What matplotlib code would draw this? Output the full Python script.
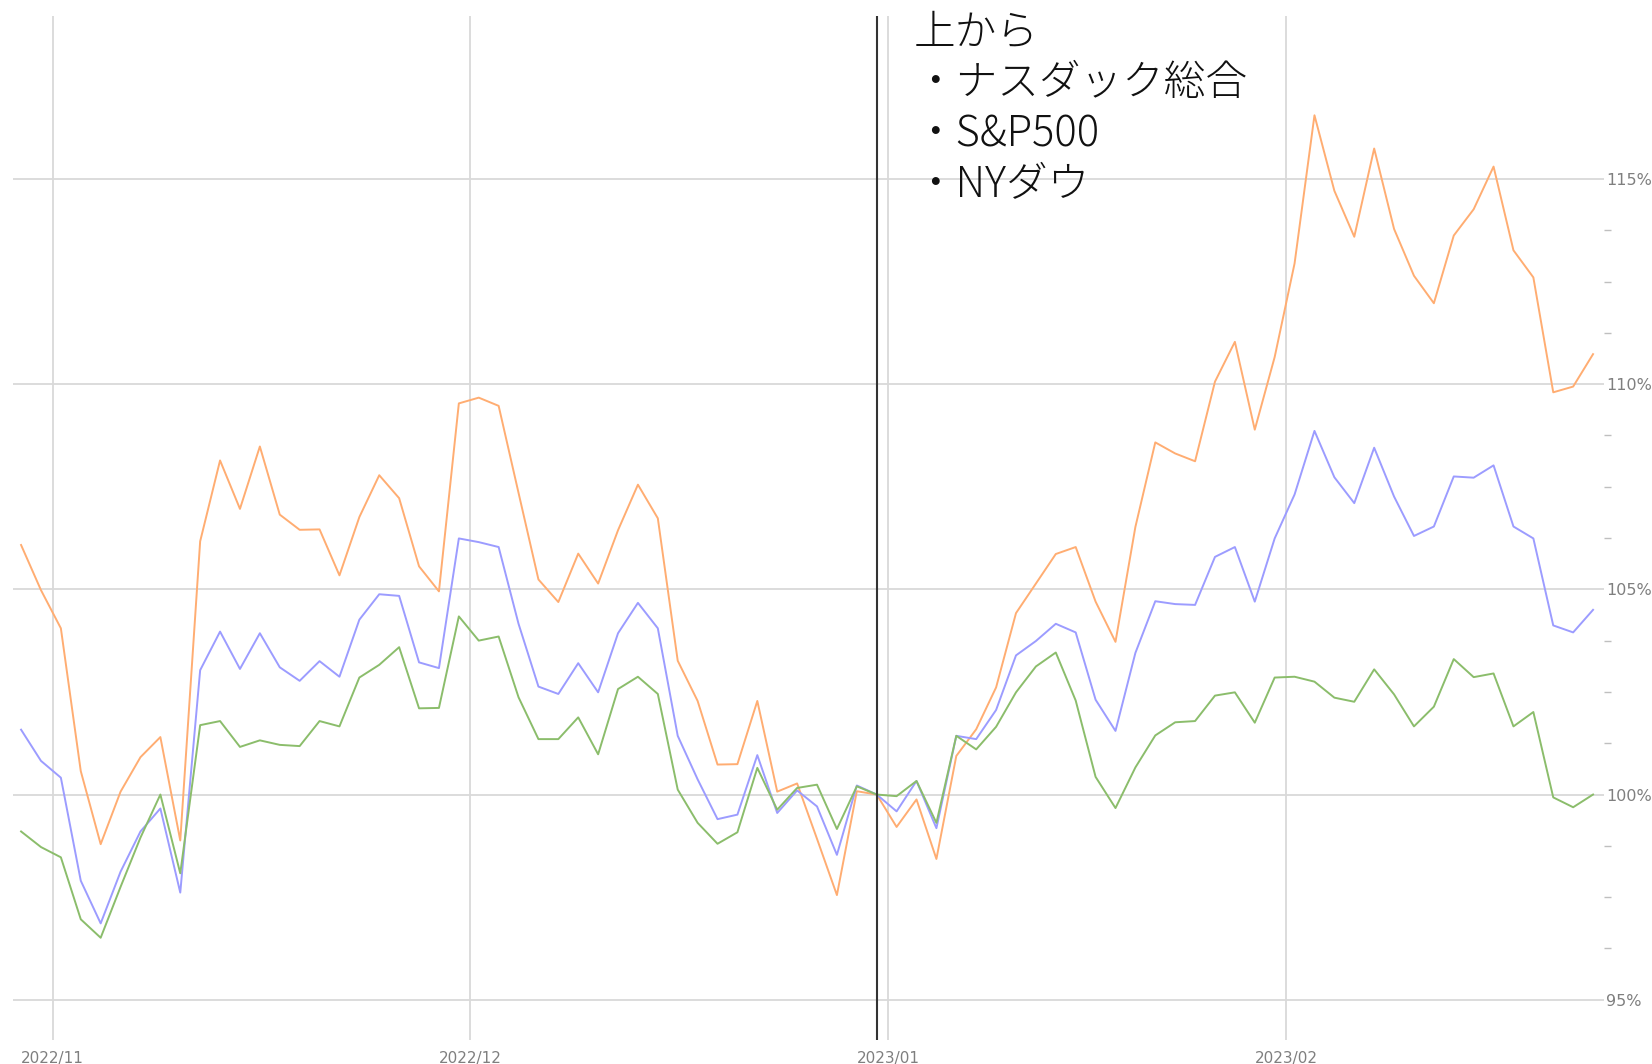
import matplotlib.pyplot as plt
import matplotlib.ticker as mticker
import numpy as np
import pandas as pd

plt.rcParams['font.family'] = ['Noto Sans CJK JP', 'DejaVu Sans']

# trading days (US market holidays removed)
holidays = ['2022-11-24', '2022-12-26', '2023-01-02', '2023-01-16', '2023-02-20']
days = pd.bdate_range('2022-10-28', '2023-02-23')
days = days[~days.isin(pd.to_datetime(holidays))]
base_day = '2022-12-30'

# % of the 2022/12/30 close
nasdaq = [106.08, 104.98, 104.05, 100.57, 98.79, 100.07, 100.91, 101.40, 98.88, 106.17,
          108.14, 106.96, 108.48, 106.82, 106.45, 106.46, 105.34, 106.76, 107.78, 107.22,
          105.56, 104.95, 109.53, 109.67, 109.47, 107.35, 105.24, 104.69, 105.87, 105.14,
          106.44, 107.55, 106.73, 103.26, 102.28, 100.73, 100.74, 102.28, 100.07, 100.27,
          98.92, 97.55, 100.08, 100.00, 99.21, 99.88, 98.43, 100.94, 101.59, 102.61,
          104.42, 105.14, 105.86, 106.03, 104.70, 103.72, 106.52, 108.58, 108.31, 108.12,
          110.06, 111.03, 108.89, 110.66, 112.94, 116.55, 114.71, 113.59, 115.74, 113.78,
          112.64, 111.97, 113.62, 114.26, 115.30, 113.26, 112.60, 109.80, 109.94, 110.73]

sp500 = [101.58, 100.82, 100.41, 97.90, 96.86, 98.12, 99.10, 99.66, 97.61, 103.03,
         103.97, 103.06, 103.93, 103.10, 102.77, 103.25, 102.87, 104.26, 104.88, 104.84,
         103.22, 103.08, 106.24, 106.15, 106.03, 104.16, 102.63, 102.45, 103.20, 102.49,
         103.93, 104.67, 104.05, 101.43, 100.37, 99.40, 99.51, 100.96, 99.55, 100.10,
         99.71, 98.53, 100.22, 100.00, 99.59, 100.33, 99.18, 101.43, 101.35, 102.06,
         103.39, 103.74, 104.16, 103.95, 102.31, 101.55, 103.45, 104.71, 104.64, 104.62,
         105.79, 106.03, 104.70, 106.24, 107.31, 108.86, 107.73, 107.10, 108.45, 107.26,
         106.30, 106.53, 107.75, 107.72, 108.02, 106.53, 106.24, 104.12, 103.95, 104.50]

dow = [99.10, 98.72, 98.47, 96.96, 96.51, 97.75, 98.95, 100.00, 98.08, 101.69,
       101.79, 101.16, 101.32, 101.21, 101.18, 101.79, 101.66, 102.85, 103.16, 103.59,
       102.10, 102.11, 104.34, 103.75, 103.85, 102.37, 101.35, 101.35, 101.88, 100.98,
       102.57, 102.87, 102.45, 100.12, 99.31, 98.80, 99.08, 100.65, 99.63, 100.16,
       100.24, 99.16, 100.20, 100.00, 99.96, 100.33, 99.31, 101.43, 101.10, 101.65,
       102.49, 103.12, 103.46, 102.29, 100.43, 99.67, 100.66, 101.44, 101.76, 101.79,
       102.41, 102.49, 101.75, 102.85, 102.87, 102.75, 102.36, 102.26, 103.05, 102.44,
       101.66, 102.14, 103.30, 102.86, 102.95, 101.66, 102.01, 99.93, 99.69, 100.00]

month_labels = ['2022/11', '2022/12', '2023/01', '2023/02']
note = '上から\n・ナスダック総合\n・S&P500\n・NYダウ'

x = np.arange(len(days))
month_of_day = list(days.strftime('%Y/%m'))
month_pos = [month_of_day.index(m) - 0.42 for m in month_labels]
base_pos = list(days.strftime('%Y-%m-%d')).index(base_day)

fig = plt.figure(figsize=(16.52, 10.64), dpi=100)
ax = fig.add_axes([0.0077, 0.0226, 0.963, 0.9624])

grid_c = '#d9d9d9'
ax.plot(x, nasdaq, color='#ffad72', lw=1.4, zorder=3)
ax.plot(x, sp500, color='#9c9cff', lw=1.4, zorder=3)
ax.plot(x, dow, color='#8bbd6b', lw=1.4, zorder=3)
ax.axvline(base_pos, color='#333333', lw=1.5, zorder=4)

ax.set_xlim(-0.42, 79.53)
ax.set_ylim(94.02, 118.97)

ax.set_xticks(month_pos)
ax.set_xticklabels(month_labels)
ax.set_yticks([95, 100, 105, 110, 115])
minor = [v for v in np.arange(95, 115, 1.25) if v % 5 != 0]
ax.set_yticks(minor, minor=True)
ax.yaxis.set_major_formatter(mticker.FuncFormatter(lambda v, p: f'{v:.0f}%'))
ax.yaxis.tick_right()

ax.grid(True, which='major', color=grid_c, lw=1.3, zorder=0)
ax.tick_params(axis='x', length=0, pad=8, labelsize=11, labelcolor='#7f7f7f')
ax.tick_params(axis='y', which='major', length=0, pad=2, labelsize=11.5, labelcolor='#7f7f7f')
ax.tick_params(axis='y', which='minor', length=5, width=1, color='#bfbfbf')
for lbl in ax.get_xticklabels() + ax.get_yticklabels():
    lbl.set_family('DejaVu Sans')

for s in ax.spines.values():
    s.set_visible(False)

fig.text(914 / 1652, 1 - 11 / 1064, note, fontsize=30, va='top', ha='left',
         linespacing=1.22, color='#111111', fontweight='light')

fig.savefig('out.png', dpi=100)
